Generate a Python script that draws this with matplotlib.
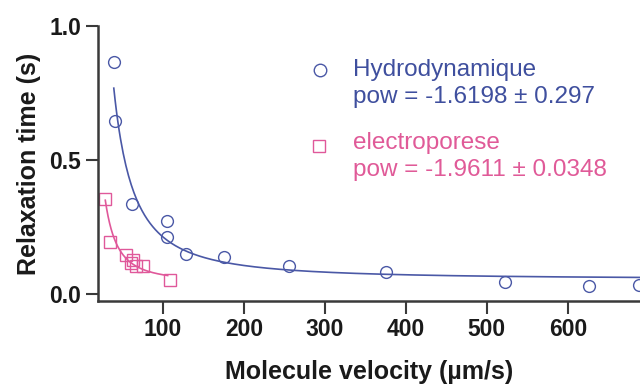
import numpy as np
import matplotlib
matplotlib.use("Agg")
import matplotlib.pyplot as plt
from matplotlib.lines import Line2D

# data
hydro_v = [39.5, 41, 61.5, 105, 105, 129, 175, 256, 375, 522, 626, 688]
hydro_t = [0.866, 0.646, 0.335, 0.272, 0.212, 0.149, 0.139, 0.106, 0.082, 0.046, 0.030, 0.034]
electro_v = [29, 35, 55, 63, 61, 67, 76, 109]
electro_t = [0.354, 0.195, 0.146, 0.127, 0.114, 0.104, 0.104, 0.052]

# power law fits  y = y0 + A * x**pow
hydro_fit = dict(y0=0.055, A=275.0, pow=-1.6198, xmin=39.5, xmax=700)
electro_fit = dict(y0=0.045, A=225.0, pow=-1.9611, xmin=29, xmax=106)

hydro_label = ["Hydrodynamique", "pow = -1.6198 \u00b1 0.297"]
electro_label = ["electroporese", "pow = -1.9611 \u00b1 0.0348"]
xticks = [100, 200, 300, 400, 500, 600]
yticks = [0.0, 0.5, 1.0]

blue = "#4a58a6"
pink = "#e0589a"
blue_txt = "#3f4f9e"
pink_txt = "#e05a98"

plt.rcParams['font.family'] = ['Liberation Sans', 'DejaVu Sans']

W, H = 640, 385
fig = plt.figure(figsize=(6.4, 3.85), dpi=100)
ax = fig.add_axes([98 / W, 1 - 301 / H, (W - 98) / W, (301 - 26) / H])


def fit_curve(p):
    x = np.linspace(p["xmin"], p["xmax"], 400)
    return x, p["y0"] + p["A"] * x ** p["pow"]


x, y = fit_curve(hydro_fit)
ax.plot(x, y, color=blue, lw=1.2)
x, y = fit_curve(electro_fit)
ax.plot(x, y, color=pink, lw=1.2)

ax.plot(hydro_v, hydro_t, 'o', ms=8.5, mfc='none', mec=blue, mew=1.0)
ax.plot(electro_v, electro_t, 's', ms=8, mfc='none', mec=pink, mew=1.0)

ax.set_xlim(20, 689)
ax.set_ylim(-0.026, 1.0)
ax.set_xticks(xticks)
ax.set_yticks(yticks)
ax.set_yticklabels(["0.0", "0.5", "1.0"])
for s in ["top", "right"]:
    ax.spines[s].set_visible(False)
for s in ["left", "bottom"]:
    ax.spines[s].set_linewidth(1.8)
    ax.spines[s].set_color("#3a3a3a")
ax.tick_params(length=9, width=1.5, color="#3a3a3a", labelsize=16.5, pad=3)
for lab in ax.get_xticklabels() + ax.get_yticklabels():
    lab.set_fontweight("bold")
    lab.set_color("#1a1a1a")

ax.set_xlabel("Molecule velocity (\u00b5m/s)", fontsize=18, fontweight="bold",
              color="#1a1a1a", labelpad=14)
ax.set_ylabel("Relaxation time (s)", fontsize=18, fontweight="bold",
              color="#1a1a1a", labelpad=6)

# legend-like annotations
def fig_xy(px, py):
    return px / W, 1 - py / H


fig.add_artist(Line2D(*zip(fig_xy(320, 70)), marker='o', ms=9, mfc='none',
                      mec=blue, mew=1.0, transform=fig.transFigure))
fig.add_artist(Line2D(*zip(fig_xy(319, 146)), marker='s', ms=8.5, mfc='none',
                      mec=pink, mew=1.0, transform=fig.transFigure))
fig.text(*fig_xy(353, 70), hydro_label[0], color=blue_txt, fontsize=17.5, va="center")
fig.text(*fig_xy(353, 97), hydro_label[1], color=blue_txt, fontsize=17.5, va="center")
fig.text(*fig_xy(353, 143), electro_label[0], color=pink_txt, fontsize=17.5, va="center")
fig.text(*fig_xy(353, 170), electro_label[1], color=pink_txt, fontsize=17.5, va="center")

fig.savefig("out.png", dpi=100)
